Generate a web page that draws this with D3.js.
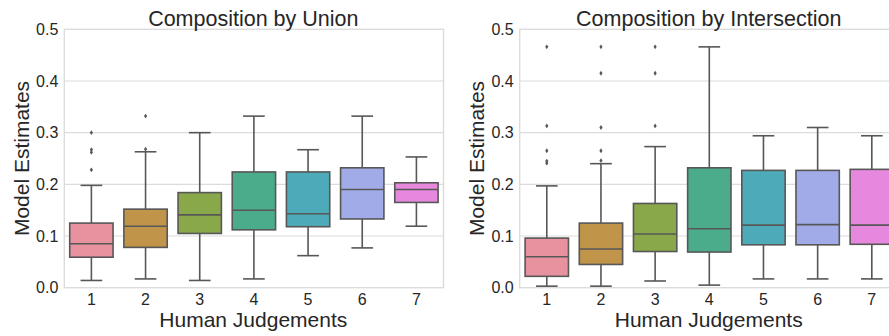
<!DOCTYPE html>
<html>
<head>
<meta charset="utf-8">
<script src="https://cdn.jsdelivr.net/npm/d3@7/dist/d3.min.js"></script>
<style>
  html, body { margin: 0; padding: 0; background: #fff; }
  svg { display: block; font-family: "Liberation Sans", Arial, sans-serif; }
</style>
</head>
<body>
<svg id="chart" width="889" height="336"></svg>
<script>
// Human judgement categories (x axis)
const categories = ["1", "2", "3", "4", "5", "6", "7"];
const yTicks = [0.0, 0.1, 0.2, 0.3, 0.4, 0.5];
const boxColors = ["#e8929f", "#c0954a", "#89a84a", "#4bac8c", "#4daab9", "#a0abe8", "#e688dd"];

// Composition by Union: box statistics per category
const unionWhiskerLow = [0.014, 0.017, 0.014, 0.017, 0.062, 0.077, 0.119];
const unionQ1         = [0.059, 0.078, 0.105, 0.112, 0.118, 0.133, 0.165];
const unionMedian     = [0.085, 0.119, 0.141, 0.150, 0.143, 0.190, 0.190];
const unionQ3         = [0.125, 0.152, 0.184, 0.224, 0.224, 0.232, 0.203];
const unionWhiskerHigh= [0.198, 0.263, 0.300, 0.332, 0.267, 0.332, 0.253];
const unionOutliers   = [[0.300, 0.267, 0.262, 0.228], [0.332, 0.268], [], [], [], [], []];

// Composition by Intersection: box statistics per category
const interWhiskerLow = [0.003, 0.003, 0.013, 0.005, 0.017, 0.017, 0.017];
const interQ1         = [0.022, 0.045, 0.070, 0.069, 0.083, 0.083, 0.084];
const interMedian     = [0.060, 0.075, 0.104, 0.114, 0.121, 0.122, 0.121];
const interQ3         = [0.096, 0.125, 0.163, 0.232, 0.227, 0.227, 0.229];
const interWhiskerHigh= [0.197, 0.240, 0.273, 0.466, 0.294, 0.310, 0.294];
const interOutliers   = [[0.466, 0.313, 0.265, 0.245, 0.241],
                         [0.466, 0.415, 0.310, 0.265, 0.246],
                         [0.466, 0.415, 0.313], [], [], [], []];

const panels = [
  { title: "Composition by Union", left: 64.3,
    lo: unionWhiskerLow, q1: unionQ1, med: unionMedian, q3: unionQ3, hi: unionWhiskerHigh, out: unionOutliers },
  { title: "Composition by Intersection", left: 519.7,
    lo: interWhiskerLow, q1: interQ1, med: interMedian, q3: interQ3, hi: interWhiskerHigh, out: interOutliers }
];

const svg = d3.select("#chart");
const plotW = 379.2, plotTop = 29.3, plotBottom = 287.7;
const textColor = "#262626", lineColor = "#575757", gridColor = "#dcdcdc";

panels.forEach(p => {
  const x = d3.scaleBand().domain(categories).range([p.left, p.left + plotW]).paddingInner(0).paddingOuter(0);
  const y = d3.scaleLinear().domain([0, 0.5]).range([plotBottom, plotTop]);
  const g = svg.append("g");

  // horizontal grid
  g.append("g").selectAll("line").data(yTicks.slice(1, -1)).join("line")
    .attr("x1", p.left).attr("x2", p.left + plotW)
    .attr("y1", d => y(d)).attr("y2", d => y(d))
    .attr("stroke", gridColor).attr("stroke-width", 1.2);

  // frame
  g.append("rect").attr("x", p.left).attr("y", plotTop).attr("width", plotW).attr("height", plotBottom - plotTop)
    .attr("fill", "none").attr("stroke", gridColor).attr("stroke-width", 1.4);

  // y axis labels
  const yAxis = d3.axisLeft(y).tickValues(yTicks).tickFormat(d3.format(".1f")).tickSize(0).tickPadding(6);
  const ya = g.append("g").attr("transform", `translate(${p.left},0)`).call(yAxis);
  ya.select(".domain").remove();
  ya.selectAll("text").attr("fill", textColor).style("font-size", "16px").attr("font-family", "Liberation Sans, Arial, sans-serif");

  // x axis labels
  const xAxis = d3.axisBottom(x).tickSize(0).tickPadding(6);
  const xa = g.append("g").attr("transform", `translate(0,${plotBottom})`).call(xAxis);
  xa.select(".domain").remove();
  xa.selectAll("text").attr("fill", textColor).style("font-size", "16px").attr("font-family", "Liberation Sans, Arial, sans-serif");

  const bw = x.bandwidth() * 0.8;
  const mid = d => x(d) + x.bandwidth() / 2;
  const boxes = g.append("g").selectAll("g").data(categories).join("g");

  // whiskers
  boxes.append("line")
    .attr("x1", mid).attr("x2", mid)
    .attr("y1", (d, i) => y(p.hi[i])).attr("y2", (d, i) => y(p.q3[i]))
    .attr("stroke", lineColor).attr("stroke-width", 1.6);
  boxes.append("line")
    .attr("x1", mid).attr("x2", mid)
    .attr("y1", (d, i) => y(p.q1[i])).attr("y2", (d, i) => y(p.lo[i]))
    .attr("stroke", lineColor).attr("stroke-width", 1.6);
  // caps
  [p.hi, p.lo].forEach(arr => {
    boxes.append("line")
      .attr("x1", d => mid(d) - bw / 4).attr("x2", d => mid(d) + bw / 4)
      .attr("y1", (d, i) => y(arr[i])).attr("y2", (d, i) => y(arr[i]))
      .attr("stroke", lineColor).attr("stroke-width", 1.6);
  });
  // box
  boxes.append("rect")
    .attr("x", d => mid(d) - bw / 2).attr("width", bw)
    .attr("y", (d, i) => y(p.q3[i])).attr("height", (d, i) => y(p.q1[i]) - y(p.q3[i]))
    .attr("fill", (d, i) => boxColors[i]).attr("stroke", lineColor).attr("stroke-width", 1.6);
  // median
  boxes.append("line")
    .attr("x1", d => mid(d) - bw / 2).attr("x2", d => mid(d) + bw / 2)
    .attr("y1", (d, i) => y(p.med[i])).attr("y2", (d, i) => y(p.med[i]))
    .attr("stroke", lineColor).attr("stroke-width", 1.6);
  // outliers (thin diamonds)
  boxes.each(function(d, i) {
    const cx = mid(d);
    d3.select(this).selectAll("path.flier").data(p.out[i]).join("path")
      .attr("class", "flier")
      .attr("d", v => `M${cx},${y(v) - 2.4}L${cx + 1.6},${y(v)}L${cx},${y(v) + 2.4}L${cx - 1.6},${y(v)}Z`)
      .attr("fill", lineColor);
  });

  // title and axis titles
  const cx = p.left + plotW / 2 - 0.6;
  g.append("text").attr("x", cx).attr("y", 26)
    .attr("text-anchor", "middle").attr("fill", textColor).style("font-size", "21.5px").text(p.title);
  g.append("text").attr("x", cx).attr("y", 327)
    .attr("text-anchor", "middle").attr("fill", textColor).style("font-size", "21px").text("Human Judgements");
  g.append("text").attr("transform", `translate(${p.left - 35.6},${(plotTop + plotBottom) / 2}) rotate(-90)`)
    .attr("text-anchor", "middle").attr("fill", textColor).style("font-size", "21px").text("Model Estimates");
});
</script>
</body>
</html>
